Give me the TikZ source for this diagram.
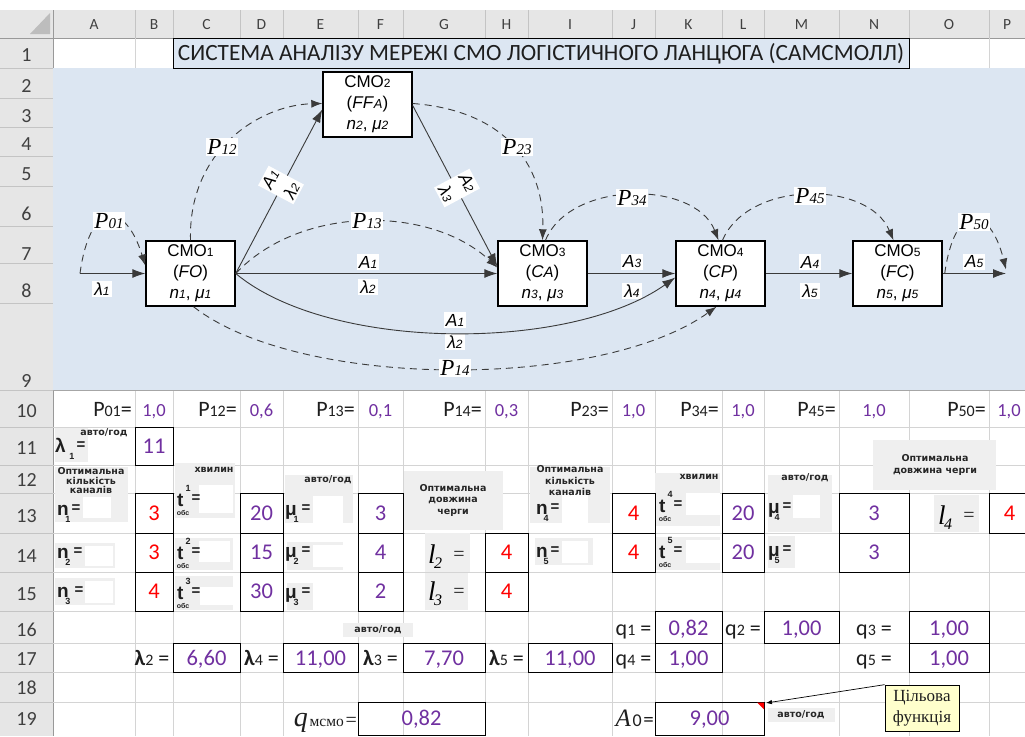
\documentclass[tikz,border=0pt]{standalone}
\usepackage{fontspec}
\setmainfont{Carlito}
\newfontfamily\arialf{Liberation Sans}
\newfontfamily\serff{Liberation Serif}
\newfontfamily\dejaf{DejaVu Sans}
\usetikzlibrary{arrows.meta,calc}
\newcommand\myfs[1]{\fontsize{#1}{#1}\selectfont}
\newcommand\myfss[2]{\fontsize{#1}{#2}\selectfont}
\definecolor{gridc}{HTML}{D4D4D4}
\definecolor{hdr}{HTML}{E6E6E6}
\definecolor{hdrline}{HTML}{C4C4C4}
\definecolor{hdrtri}{HTML}{BDBDBD}
\definecolor{diag}{HTML}{DCE6F2}
\definecolor{purp}{HTML}{7030A0}
\definecolor{redv}{HTML}{FF0000}
\definecolor{grayb}{HTML}{EFEFEF}
\definecolor{note}{HTML}{FFFFCC}
\definecolor{lin}{HTML}{3A3A3A}
\definecolor{txt}{HTML}{1E1E1E}
\newcommand\sbs[1]{{\myfs{16}#1}}
\newcommand\Ps[1]{P{\myfs{15}#1}}
\newcommand\As[2]{#1{\myfs{12}#2}}
\newcommand\smotxt[2]{СМО{\myfs{12}#1}\\(#2)\\\textit{n}{\myfs{12}\textit{#1}}, \textit{μ}{\myfs{12}\textit{#1}}}
\newcommand\vc[8]{%
  \draw[cellb] (#2,#3) rectangle (#4,#5);
  \node[valt,text=#6,anchor=base] (#1) at ({(#2+#4)/2},#7) {#8};}
\newcommand\glab[7]{%
  \node[bigb,anchor=base west] (#1) at (#2,#3) {#4};
  \node[subb] (#1s) at ({#2+#6},{#3+4}) {#5};
  \node[eqb] (#1e) at ({#2+#7},{#3-6}) {=};}
\newcommand\tlab[4]{%
  \node[bigb,anchor=base west] (#1) at (#2,#3) {t};
  \node[subb] (#1u) at ({#2+11},{#3-18}) {#4};
  \node[obsb] (#1o) at ({#2+6},{#3+7}) {обс};
  \node[eqb] (#1e) at ({#2+19},{#3-7}) {=};}
\newcommand\llab[4]{%
  \node[lit,anchor=base west] (#1) at (#2,#3) {l};
  \node[lsub] (#1s) at ({#2+10},{#3}) {#4};
  \node[leq] (#1e) at ({#2+31},{#3-7}) {=};}
\begin{document}
\begin{tikzpicture}[x=1pt,y=-1pt,
 hdrtxt/.style={font=\myfs{15.5},text=black!75,inner sep=0},
 rowtxt/.style={font=\myfs{20},text=black!75,inner sep=0},
 cellt/.style={font=\myfs{22},text=txt,inner sep=0},
 valt/.style={font=\myfs{22.5},inner sep=0},
 cellb/.style={draw=black,line width=1pt},
 grid/.style={draw=gridc,line width=0.6pt},
 smb/.style={font=\dejaf\bfseries\myfss{9.5}{9.5},inner sep=0,align=center,text=black!85},
 bigb/.style={font=\arialf\bfseries\myfs{19},inner sep=0,text=txt},
 subb/.style={font=\arialf\bfseries\myfs{9},inner sep=0,text=txt},
 obsb/.style={font=\arialf\bfseries\myfs{7},inner sep=0,text=txt},
 eqb/.style={font=\arialf\bfseries\myfs{15},inner sep=0,text=txt},
 lit/.style={font=\serff\itshape\myfs{27},inner sep=0,text=black},
 lsub/.style={font=\serff\itshape\myfs{16},inner sep=0,text=black},
 leq/.style={font=\serff\myfs{20},inner sep=0,text=txt},
 smo/.style={draw=black,line width=1.4pt,fill=white,minimum width=89pt,minimum height=65pt,inner sep=0,align=center,font=\arialf\myfss{17}{21}},
 flow/.style={draw=lin,line width=0.9pt,-{Latex[length=13pt,width=9pt]}},
 dsh/.style={draw=lin,line width=0.9pt,dash pattern=on 7pt off 5pt,-{Latex[length=11pt,width=8pt]}},
 plab/.style={fill=white,inner sep=1.5pt,font=\serff\itshape\myfs{23}},
 alab/.style={fill=white,inner sep=2pt,font=\arialf\itshape\myfs{17.5}},
 rlab/.style={fill=white,inner sep=2pt,align=center,font=\arialf\itshape\myfss{17.5}{24}},
 gbox/.style={fill=grayb},
 wbox/.style={fill=white}
]
\useasboundingbox (0,0) rectangle (1025,736);
\clip (0,0) rectangle (1025,736);
\fill[white] (0,0) rectangle (1025,736);
% ---------- headers
\fill[hdr] (0,10) rectangle (1025,38);
\fill[hdr] (0,38) rectangle (53,736);
\fill[hdrtri] (30,34) -- (50,34) -- (50,13) -- cycle;
\foreach \xx in {135,173,240,283,358,403,485,528,612,655,722,764,839,909,989}
  \draw[draw=hdrline,line width=0.6pt] (\xx,10) -- (\xx,38);
\foreach \yy in {68,98,127,156,186,226,263,303,390,427,465,493,533,572,611,643,672,702}
  \draw[draw=hdrline,line width=0.6pt] (0,\yy) -- (53,\yy);
\draw[draw=gray!80,line width=0.8pt] (0,38) -- (1025,38);
\draw[draw=gray!80,line width=0.8pt] (53,10) -- (53,736);
\foreach \colname/\xx in {A/94,B/154,C/206.5,D/261.5,E/320.5,F/380.5,G/444,H/506.5,I/570,J/633.5,K/688.5,L/743,M/801.5,N/874,O/949,P/1007}
  \node[hdrtxt] (col\colname) at (\xx,25) {\colname};
\foreach \rn/\yy in {1/55,2/86,3/116,4/144,5/174,6/214,7/254,8/291,9/381,10/411,11/448,12/480,13/516,14/556,15/594,16/630,17/659,18/688,19/719}
  \node[rowtxt] (row\rn) at (26.5,\yy) {\rn};
% ---------- gridlines
\foreach \xx in {135,173,240,283,358,403,485,528,612,655,722,764,839,909,989} {
  \draw[grid] (\xx,38) -- (\xx,68);
  \draw[grid] (\xx,390) -- (\xx,736);
}
\foreach \yy in {427,465,493,533,572,611,643,672,702}
  \draw[grid] (53,\yy) -- (1025,\yy);
% ---------- diagram area
\fill[diag] (53,68) rectangle (1025,390);
\draw[draw=gray!70,line width=0.8pt] (53,390) -- (1025,390);
% ---------- title
\draw[fill=diag,draw=black,line width=0.9pt] (173,38.5) rectangle (909,68);
\node[font=\myfs{23.3},text=txt,inner sep=0] (title) at (541,54) {СИСТЕМА АНАЛІЗУ МЕРЕЖІ СМО ЛОГІСТИЧНОГО ЛАНЦЮГА (САМСМОЛЛ)};
% ---------- diagram boxes
\node[smo] (s1) at (190.5,273.5) {\smotxt{1}{\textit{FO}}};
\node[smo] (s2) at (367.5,104.5) {\smotxt{2}{\textit{FF}{\myfs{13}\textit{A}}}};
\node[smo] (s3) at (542.5,273.5) {\smotxt{3}{\textit{C}{\myfs{15}\textit{A}}}};
\node[smo] (s4) at (720.5,273.5) {\smotxt{4}{\textit{CP}}};
\node[smo] (s5) at (897.5,273.5) {\smotxt{5}{\textit{FC}}};
\coordinate (in) at (80,273.5);
\coordinate (out) at (1006,273.5);
% connectors
\draw[flow] (in) -- (s1.west);
\draw[dsh] (in) .. controls (90,200) and (125,200) .. ($(s1.west)+(0,-8)$);
\draw[dsh] (s1.north) .. controls (188,150) and (260,105) .. ($(s2.west)+(0,-1)$);
\draw[flow] (s1.east) -- ($(s2.west)+(0,5)$);
\draw[flow] ($(s2.east)+(0,1)$) -- ($(s3.west)+(0,-7)$);
\draw[dsh] ($(s2.east)+(0,-1)$) .. controls (500,110) and (545,160) .. (s3.north);
\draw[dsh] (s1.east) .. controls (300,205) and (430,205) .. ($(s3.west)+(0,-6)$);
\draw[flow] (s1.east) -- (s3.west);
\draw[dsh] ($(s1.south)+(3,0)$) .. controls (300,390) and (600,390) .. ($(s4.south)+(-4,0)$);
\draw[flow] (s3.east) -- (s4.west);
\draw[dsh] ($(s3.north)+(3,0)$) .. controls (570,180) and (695,180) .. ($(s4.north)+(-2,0)$);
\draw[flow] (s4.east) -- (s5.west);
\draw[dsh] ($(s4.north)+(2,0)$) .. controls (748,180) and (868,180) .. ($(s5.north)+(-4,0)$);
\draw[flow] (s5.east) -- (out);
\draw[dsh] ($(s5.east)+(2,0)$) .. controls (955,200) and (990,205) .. ($(out)+(0,-4)$);
% labels
\node[alab] (lam1) at (102,289) {\As{λ}{1}};
\node[plab] (p01) at (109,221) {\Ps{01}};
\node[plab] (p12) at (222,147) {\Ps{12}};
\node[rlab,rotate=62] (l12) at (281,185) {\As{A}{1}\\\As{λ}{2}};
\node[plab] (p13) at (367,221) {\Ps{13}};
\node[alab] (a13) at (368,262) {\As{A}{1}};
\node[alab] (b13) at (368,287) {\As{λ}{2}};
\node[alab] (a14) at (455,320) {\As{A}{1}};
\node[alab] (b14) at (455,342) {\As{λ}{2}};
\node[plab] (p14) at (455,368) {\Ps{14}};
\node[rlab,rotate=-62] (l23) at (457,188) {\As{A}{2}\\\As{λ}{3}};
\node[plab] (p23) at (517,147) {\Ps{23}};
\node[alab] (a34) at (632,262) {\As{A}{3}};
\node[alab] (b34) at (632,291) {\As{λ}{4}};
\node[plab] (p34) at (632,198) {\Ps{34}};
\node[alab] (a45) at (810,262) {\As{A}{4}};
\node[alab] (b45) at (810,291) {\As{λ}{5}};
\node[plab] (p45) at (810,196) {\Ps{45}};
\node[alab] (a5) at (974,262) {\As{A}{5}};
\node[plab] (p50) at (974,222) {\Ps{50}};
\draw[flow] (s1.east) .. controls (330,352) and (570,352) .. ($(s4.west)+(0,4)$);
% ---------- row 10
\foreach \nm/\xx/\q in {a/132/01,c/237/12,e/355/13,g/482/14,i/609/23,k/719/34,m/836/45,o/986/50}
  \node[cellt,anchor=base east] (r10\nm) at (\xx,416) {P\sbs{\q}=};
\foreach \nm/\xx/\vv in {b/154/{1,0},d/261.5/{0,6},f/380.5/{0,1},h/506.5/{0,3},j/633.5/{1,0},l/743/{1,0},n/874/{1,0},p/1009/{1,0}}
  \node[cellt,anchor=base,text=purp,font=\myfs{18.5}] (v10\nm) at (\xx,416) {\vv};
% ---------- grey image boxes
\fill[gbox] (55,428) rectangle (88,462);
\fill[gbox] (55,467) rectangle (128,522); \fill[wbox] (83,497) rectangle (111,518);
\fill[gbox] (55,543) rectangle (115,568); \fill[wbox] (85,546) rectangle (113,566);
\fill[gbox] (55,578) rectangle (115,605); \fill[wbox] (85,581) rectangle (113,603);
\fill[gbox] (175,463) rectangle (235,518); \fill[wbox] (199,485) rectangle (233,513);
\fill[gbox] (175,538) rectangle (233,570); \fill[wbox] (199,541) rectangle (230,562);
\fill[gbox] (175,576) rectangle (233,610); \fill[wbox] (200,587) rectangle (233,605);
\fill[gbox] (285,475) rectangle (353,523); \fill[wbox] (313,496) rectangle (343,523);
\fill[gbox] (287,542) rectangle (343,570); \fill[wbox] (313,545) rectangle (343,567);
\fill[gbox] (287,583) rectangle (313,610);
\fill[gbox] (404,471) rectangle (503,530);
\fill[gbox] (425,533) rectangle (470,572);
\fill[gbox] (425,573) rectangle (468,610);
\fill[gbox] (530,467) rectangle (610,523); \fill[wbox] (562,493) rectangle (588,523);
\fill[gbox] (535,538) rectangle (593,565); \fill[wbox] (562,541) rectangle (588,563);
\fill[gbox] (655,473) rectangle (720,526); \fill[wbox] (686,493) rectangle (720,515);
\fill[gbox] (655,537) rectangle (720,570); \fill[wbox] (686,540) rectangle (720,563);
\fill[gbox] (768,475) rectangle (832,532); \fill[wbox] (793,495) rectangle (820,518);
\fill[gbox] (768,536) rectangle (795,568);
\fill[gbox] (873,440) rectangle (996,490);
\fill[gbox] (934,495) rectangle (979,532);
\fill[gbox] (343,623) rectangle (413,637);
\fill[gbox] (768,708) rectangle (835,722);
% small texts
\node[smb] (u11) at (104,433) {авто/год};
\node[smb] (opt1) at (91,481) {Оптимальна\\кількість\\каналів};
\node[smb] (hv1) at (214,470) {хвилин};
\node[smb] (av1) at (328,480) {авто/год};
\node[smb,font=\dejaf\bfseries\myfss{9.5}{11.5}] (opt2) at (453,500) {Оптимальна\\довжина\\черги};
\node[smb,font=\dejaf\bfseries\myfss{9.5}{11.5}] (opt3) at (570,481) {Оптимальна\\кількість\\каналів};
\node[smb] (hv2) at (699,477) {хвилин};
\node[smb] (av2) at (805,478) {авто/год};
\node[smb,font=\dejaf\bfseries\myfss{9.5}{12}] (opt4) at (935,465) {Оптимальна\\довжина черги};
\node[smb] (u16) at (378,630) {авто/год};
\node[smb] (u19) at (801,715) {авто/год};
% symbol labels
\glab{lam1c}{55}{452}{λ}{1}{17}{26}
\glab{n1}{57}{515}{n}{1}{11}{19}
\glab{n2}{57}{558}{n}{2}{11}{21}
\glab{n3}{57}{597}{n}{3}{11}{22}
\tlab{t1}{177}{506}{1}
\tlab{t2}{177}{559}{2}
\tlab{t3}{177}{599}{3}
\glab{m1}{285}{515}{μ}{1}{11}{21}
\glab{m2}{285}{557}{μ}{2}{11}{21}
\glab{m3}{285}{598}{μ}{3}{11}{21}
\llab{l2}{428}{563}{2}
\llab{l3}{428}{600}{3}
\glab{n4}{536}{514}{n}{4}{10}{19}
\glab{n5}{536}{557}{n}{5}{10}{19}
\tlab{t4}{659}{512}{4}
\tlab{t5}{659}{558}{5}
\glab{m4}{768}{513}{μ}{4}{9}{19}
\glab{m5}{768}{556}{μ}{5}{9}{19}
\llab{l4}{938}{524}{4}
% ---------- value cells
\vc{vb11}{135}{427}{173}{465}{purp}{453}{11}
\vc{vb13}{135}{493}{173}{533}{redv}{520}{3}
\vc{vb14}{135}{533}{173}{572}{redv}{559}{3}
\vc{vb15}{135}{572}{173}{611}{redv}{598}{4}
\vc{vd13}{240}{493}{283}{533}{purp}{520}{20}
\vc{vd14}{240}{533}{283}{572}{purp}{559}{15}
\vc{vd15}{240}{572}{283}{611}{purp}{598}{30}
\vc{vf13}{358}{493}{403}{533}{purp}{520}{3}
\vc{vf14}{358}{533}{403}{572}{purp}{559}{4}
\vc{vf15}{358}{572}{403}{611}{purp}{598}{2}
\vc{vh14}{485}{533}{528}{572}{redv}{559}{4}
\vc{vh15}{485}{572}{528}{611}{redv}{598}{4}
\vc{vj13}{612}{493}{655}{533}{redv}{520}{4}
\vc{vj14}{612}{533}{655}{572}{redv}{559}{4}
\vc{vl13}{722}{493}{764}{533}{purp}{520}{20}
\vc{vl14}{722}{533}{764}{572}{purp}{559}{20}
\vc{vn13}{839}{493}{909}{533}{purp}{520}{3}
\vc{vn14}{839}{533}{909}{572}{purp}{559}{3}
\vc{vp13}{989}{493}{1030}{533}{redv}{520}{4}
% row 16
\node[cellt,anchor=base] (q1l) at (633.5,635) {q\sbs{1} =};
\vc{vk16}{655}{611}{722}{643}{purp}{635}{0,82}
\node[cellt,anchor=base] (q2l) at (743,635) {q\sbs{2} =};
\vc{vm16}{764}{611}{839}{643}{purp}{635}{1,00}
\node[cellt,anchor=base] (q3l) at (874,635) {q\sbs{3} =};
\vc{vo16}{909}{611}{989}{643}{purp}{635}{1,00}
% row 17
\node[cellt,anchor=base] (l2l) at (152,665) {\textbf{λ}\sbs{2} =};
\vc{vc17}{173}{643}{240}{672}{purp}{665}{6,60}
\node[cellt,anchor=base] (l4l) at (261.5,665) {\textbf{λ}\sbs{4} =};
\vc{ve17}{283}{643}{358}{672}{purp}{665}{11,00}
\node[cellt,anchor=base] (l3l) at (380.5,665) {\textbf{λ}\sbs{3} =};
\vc{vg17}{403}{643}{485}{672}{purp}{665}{7,70}
\node[cellt,anchor=base] (l5l) at (506.5,665) {\textbf{λ}\sbs{5} =};
\vc{vi17}{528}{643}{612}{672}{purp}{665}{11,00}
\node[cellt,anchor=base] (q4l) at (633.5,665) {q\sbs{4} =};
\vc{vk17}{655}{643}{722}{672}{purp}{665}{1,00}
\node[cellt,anchor=base] (q5l) at (874,665) {q\sbs{5} =};
\vc{vo17}{909}{643}{989}{672}{purp}{665}{1,00}
% row 19
\node[anchor=base east,inner sep=0,text=txt] (qm) at (357,726) {{\serff\itshape\myfs{28}q}\,{\serff\myfs{15.5}мсмо}\,{\serff\myfs{20}=}};
\vc{vfg19}{358}{702}{485}{735.5}{purp}{725}{0,82}
\node[anchor=base east,inner sep=0,text=txt] (a0) at (654,726) {{\serff\itshape\myfs{25}A}\,{\myfs{18}0}\,{\myfs{21}=}};
\vc{vkl19}{655}{702}{764}{735.5}{purp}{725}{9,00}
\fill[redv] (757,702.5) -- (764,702.5) -- (764,709.5) -- cycle;
\node[draw=black,line width=0.7pt,fill=note,align=center,font=\serff\myfss{17}{21},inner sep=0,text=txt,minimum width=74pt,minimum height=46pt] (cmt) at (922,708) {Цільова\\функція};
\coordinate (tipA) at (766,703);
\draw[draw=black,line width=0.7pt,-{Latex[length=6pt,width=4.5pt]}] (cmt.north west) -- (tipA);
\end{tikzpicture}
\end{document}
